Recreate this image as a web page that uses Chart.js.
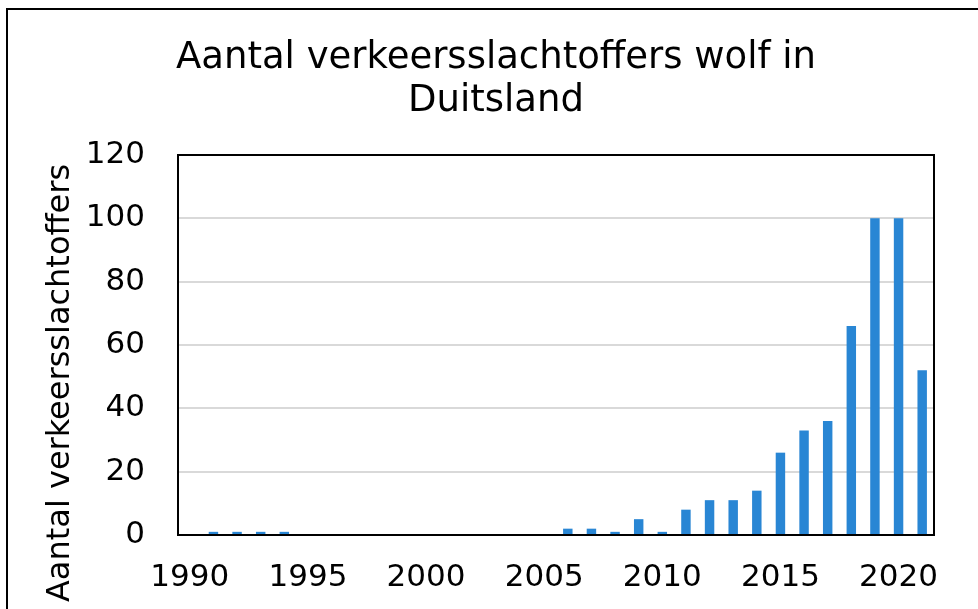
<!DOCTYPE html>
<html>
<head>
<meta charset="utf-8">
<script src="https://cdn.jsdelivr.net/npm/chart.js@4"></script>
<style>
  html, body { margin: 0; padding: 0; background: #fff; }
  #wrap { width: 978px; height: 609px; }
</style>
</head>
<body>
<div id="wrap"><canvas id="wolfChart" width="978" height="609"></canvas></div>
<script>
const years = [];
for (let y = 1990; y <= 2021; y++) years.push(String(y));

// verkeersslachtoffers per jaar, 1990 t/m 2021
const victims = [0, 1, 1, 1, 1, 0, 0, 0, 0, 0, 0, 0, 0, 0, 0, 0,
                 2, 2, 1, 5, 1, 8, 11, 11, 14, 26, 33, 36, 66, 100, 100, 52];

const xTickLabels = ['1990', '1995', '2000', '2005', '2010', '2015', '2020'];
const yTicks = [0, 20, 40, 60, 80, 100, 120];

const titleLines = ['Aantal verkeersslachtoffers wolf in', 'Duitsland'];
const yTitle = 'Aantal verkeersslachtoffers';

const font = 'DejaVu Sans';

// outer frame, plot frame, chart title and the y-axis title
// (titles drawn here because the Excel-style layout isn't centred on the plot)
const framePlugin = {
    id: 'frame',
    afterDraw(chart) {
        const c = chart.ctx;
        const a = chart.chartArea;
        c.save();
        c.strokeStyle = '#000';
        c.lineWidth = 2;
        c.strokeRect(7, 9, 1000, 1000);
        c.strokeRect(a.left, a.top, a.right - a.left, a.bottom - a.top);

        c.fillStyle = '#000';
        c.textAlign = 'center';
        c.textBaseline = 'middle';
        c.font = '37px "' + font + '"';
        titleLines.forEach((t, i) => c.fillText(t, 496, 58 + i * 43));

        c.translate(61, 383);
        c.rotate(-Math.PI / 2);
        c.font = '32px "' + font + '"';
        c.fillText(yTitle, 0, 0);
        c.restore();
    }
};

const ctx = document.getElementById('wolfChart');

new Chart(ctx, {
    type: 'bar',
    data: {
        labels: years,
        datasets: [{
            label: 'Verkeersslachtoffers',
            data: victims,
            backgroundColor: '#2986d4',
            categoryPercentage: 1,
            barPercentage: 0.4
        }]
    },
    options: {
        responsive: false,
        animation: false,
        layout: {
            padding: { top: 155, right: 44, bottom: 0, left: 8 }
        },
        plugins: {
            legend: { display: false },
            tooltip: { enabled: false },
            title: { display: false }
        },
        scales: {
            x: {
                afterFit: function (scale) { scale.height = 74; },
                grid: { display: false, drawTicks: false },
                border: { display: false },
                ticks: {
                    autoSkip: false,
                    maxRotation: 0,
                    padding: 24,
                    color: '#000',
                    font: { family: font, size: 31 },
                    callback: function (val, idx) {
                        const lab = years[idx];
                        return xTickLabels.includes(lab) ? lab : '';
                    }
                }
            },
            y: {
                min: yTicks[0],
                max: yTicks[yTicks.length - 1],
                afterFit: function (scale) { scale.width = 170; },
                afterBuildTicks: function (scale) {
                    scale.ticks = yTicks.map(v => ({ value: v }));
                },
                grid: { color: '#d9d9d9', lineWidth: 2, drawTicks: false },
                border: { display: false },
                ticks: {
                    padding: 33,
                    color: '#000',
                    font: { family: font, size: 31 }
                }
            }
        }
    },
    plugins: [framePlugin]
});
</script>
</body>
</html>
